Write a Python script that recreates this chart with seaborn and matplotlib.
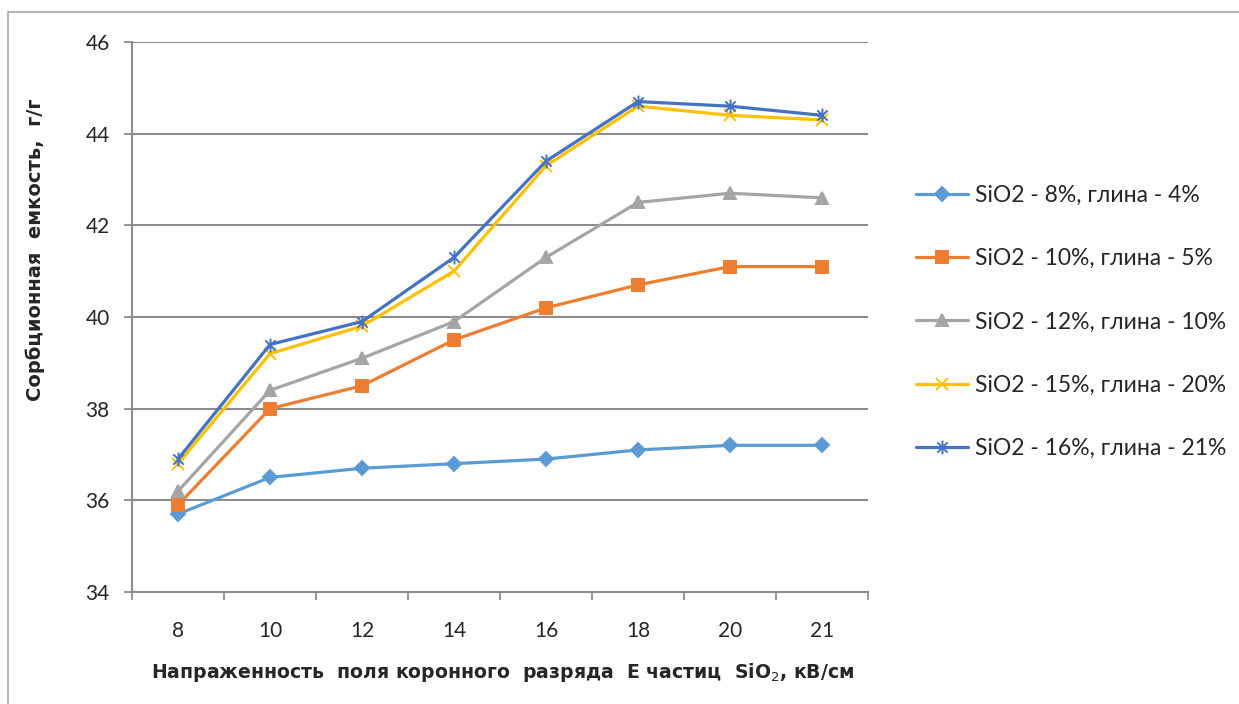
import numpy as np
import pandas as pd
import seaborn as sns
import matplotlib
matplotlib.use('Agg')
import matplotlib.pyplot as plt
from matplotlib.path import Path
from matplotlib.patches import Rectangle

# field strength categories, kV/cm
field = ['8', '10', '12', '14', '16', '18', '20', '21']

s_8_4 = [35.7, 36.5, 36.7, 36.8, 36.9, 37.1, 37.2, 37.2]
s_10_5 = [35.9, 38.0, 38.5, 39.5, 40.2, 40.7, 41.1, 41.1]
s_12_10 = [36.2, 38.4, 39.1, 39.9, 41.3, 42.5, 42.7, 42.6]
s_15_20 = [36.8, 39.2, 39.8, 41.0, 43.3, 44.6, 44.4, 44.3]
s_16_21 = [36.9, 39.4, 39.9, 41.3, 43.4, 44.7, 44.6, 44.4]

labels = ['SiO2 - 8%, глина - 4%', 'SiO2 - 10%, глина - 5%', 'SiO2 - 12%, глина - 10%',
          'SiO2 - 15%, глина - 20%', 'SiO2 - 16%, глина - 21%']

colors = ['#5B9BD5', '#ED7D31', '#A5A5A5', '#FFC000', '#4472C4']

# excel-like star: X plus vertical bar
star = Path([(-1, -1), (1, 1), (-1, 1), (1, -1), (0, -1.35), (0, 1.35)],
            [Path.MOVETO, Path.LINETO, Path.MOVETO, Path.LINETO, Path.MOVETO, Path.LINETO])
markers = ['D', 's', '^', 'x', star]
msizes = [7, 8, 8, 9, 10]

sns.set_style('white')
plt.rcParams['font.family'] = ['Lato', 'DejaVu Sans']

fig = plt.figure(figsize=(12.39, 7.04), dpi=100)
ax = fig.add_axes([132/1239, 1-592/704, (868-132)/1239, (592-42)/704])

pos = np.arange(len(field))
for vals, lab, col, mk, ms in zip([s_8_4, s_10_5, s_12_10, s_15_20, s_16_21], labels, colors, markers, msizes):
    df = pd.DataFrame({'x': pos, 'y': vals})
    filled = mk in ('D', 's', '^')
    sns.lineplot(data=df, x='x', y='y', ax=ax, color=col, lw=2.3, marker=mk, ms=ms,
                 mec=col, mfc=col if filled else 'none', mew=1.4, label=lab, legend=False)

ax.set_xlim(-0.5, len(field)-0.5)
ax.set_ylim(34, 46)
ax.set_yticks(range(34, 47, 2))
ax.yaxis.grid(True, color='#8C8C8C', lw=1.5)
ax.set_axisbelow(True)

ax.set_xticks(np.arange(-0.5, len(field), 1))
ax.set_xticklabels([])
ax.set_xticks(pos, minor=True)
ax.set_xticklabels(field, minor=True)
ax.tick_params(axis='x', which='major', length=6, width=1.3, color='#8C8C8C', direction='out', bottom=True)
ax.tick_params(axis='x', which='minor', length=0, pad=21, labelsize=15)
ax.tick_params(axis='y', length=6, width=1.3, color='#8C8C8C', direction='out', left=True, pad=10, labelsize=15)

for side in ['top', 'right']:
    ax.spines[side].set_visible(False)
for side in ['left', 'bottom']:
    ax.spines[side].set_color('#8C8C8C')
    ax.spines[side].set_linewidth(1.5)
ax.set_xlabel('')
ax.set_ylabel('')

lab_font = ['DejaVu Sans']
fig.text(35/1239, 1-250/704, 'Сорбционная  емкость,  г/г', rotation=90, ha='center', va='center',
         fontsize=14, fontweight='bold', family=lab_font)
fig.text(503/1239, 1-672/704, 'Напраженность  поля коронного  разряда  Е частиц  SiO$_2$, кВ/см',
         ha='center', va='center', fontsize=13.6, fontweight='bold', family=lab_font)

handles, _ = ax.get_legend_handles_labels()
fig.legend(handles, labels, loc='upper left', bbox_to_anchor=(895/1239, 1-164/704), frameon=False,
           fontsize=16.5, labelspacing=1.85, handlelength=2.3, handletextpad=0.3)

fig.patches.append(Rectangle((8/1239, -0.1), 1.2, 1-12/704+0.1, transform=fig.transFigure,
                             fill=False, ec='#A6A6A6', lw=1.2))

fig.savefig('out.png', dpi=100, facecolor='white')
